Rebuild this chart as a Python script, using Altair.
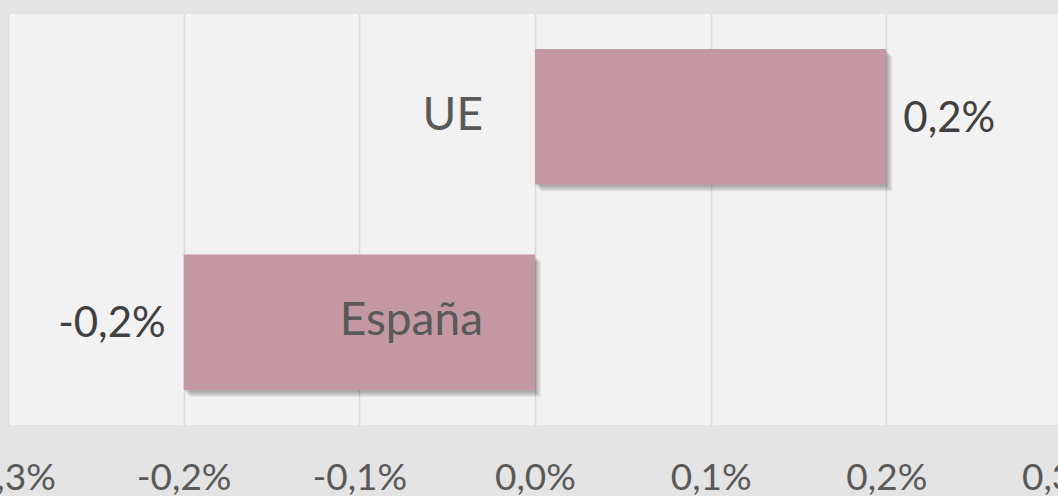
import altair as alt
import pandas as pd

categories = ["UE", "España"]
values = [0.002, -0.002]
tick_values = [-0.003, -0.002, -0.001, 0.0, 0.001, 0.002, 0.003]

df = pd.DataFrame({"cat": categories, "val": values, "zero": [0.0, 0.0]})
df["lab"] = ["0,2%", "-0,2%"]

FONT = "Lato"
xscale = alt.Scale(domain=[-0.003, 0.003], range=[0, 1054])
yscale = alt.Scale(domain=categories, paddingInner=0.34, paddingOuter=0.17)

base = alt.Chart(df)

xenc = alt.X(
    "val:Q", scale=xscale,
    axis=alt.Axis(
        values=tick_values, title=None, domain=False, ticks=False, grid=True,
        gridColor="#d9d9d9", gridWidth=1.5,
        labelExpr="replace(replace(format(datum.value, '.1%'), '.', ','), '\u2212', '-')",
        labelFont=FONT, labelFontSize=37, labelColor="#595959",
        labelPadding=35, labelOverlap=False, labelFlush=False, labelBound=False,
        labelBaseline="top",
    ),
)
yenc = alt.Y("cat:N", scale=yscale, axis=None)

layers = []
for k in range(1, 7):
    layers.append(
        base.mark_bar(color="black", opacity=0.055, xOffset=k, x2Offset=k, yOffset=k + 1, y2Offset=k + 1)
        .encode(x=xenc, x2="zero:Q", y=yenc)
    )

bars = base.mark_bar(color="#c398a3").encode(x=xenc, x2="zero:Q", y=yenc)

cat_text = base.mark_text(align="right", baseline="middle", dx=-52, dy=-1,
                          font=FONT, fontSize=46, color="#595959").encode(
    x=alt.X("zero:Q", scale=xscale), y=yenc, text="cat:N")

val_pos = alt.Chart(df[df["val"] > 0]).mark_text(
    align="left", baseline="middle", dx=17, dy=2, font=FONT, fontSize=42, color="#404040"
).encode(x=alt.X("val:Q", scale=xscale), y=yenc, text="lab:N")

val_neg = alt.Chart(df[df["val"] < 0]).mark_text(
    align="right", baseline="middle", dx=-18, dy=2, font=FONT, fontSize=42, color="#404040"
).encode(x=alt.X("val:Q", scale=xscale), y=yenc, text="lab:N")

chart = alt.layer(*layers, bars, cat_text, val_pos, val_neg).properties(
    width=1050, height=411,
    background="#e4e4e4",
    padding={"left": 8, "top": 14, "right": 0, "bottom": 71},
    autosize=alt.AutoSizeParams(type="none"),
).configure_view(fill="#f2f2f2", stroke=None)

chart.save("out.html", embed_options={"renderer": "svg", "actions": False})
